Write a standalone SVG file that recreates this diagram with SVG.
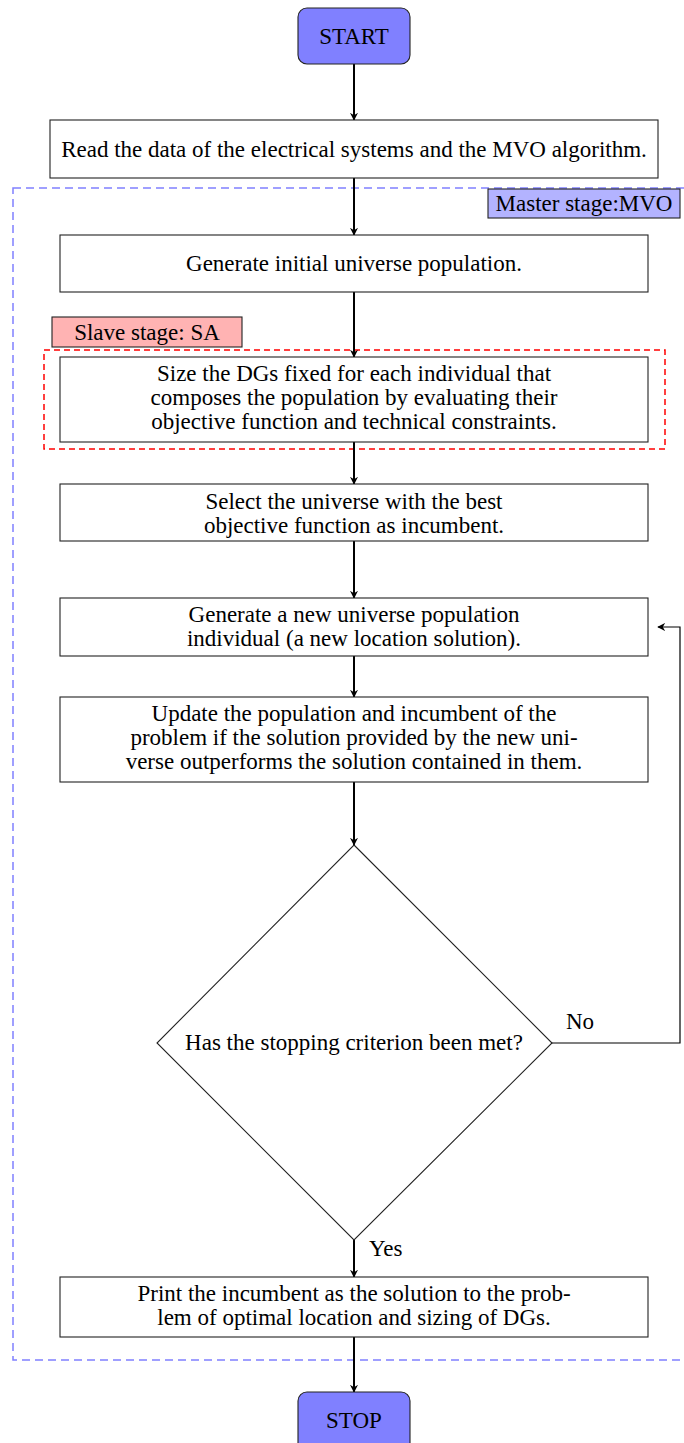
<svg xmlns="http://www.w3.org/2000/svg" width="684" height="1443" viewBox="0 0 684 1443">
<style>
text{font-family:"Liberation Serif","Times New Roman",serif;font-size:23px;fill:#000;text-anchor:middle}
.box{fill:#fff;stroke:#222;stroke-width:1.1}
.term{fill:#8080ff;stroke:#222;stroke-width:1.1}
.con{fill:none;stroke:#000;stroke-width:2}
.lbl{text-anchor:start}
</style>
<defs>
<marker id="arr" viewBox="0 0 10 10" refX="9" refY="5" markerWidth="8" markerHeight="8" markerUnits="userSpaceOnUse" orient="auto">
<path d="M0,0 L10,5 L0,10 L3,5 Z" fill="#000"/>
</marker>
</defs>
<g id="master-frame">
<rect x="13" y="188" width="690" height="1172" fill="none" stroke="#8080ff" stroke-width="1.5" stroke-dasharray="8,5"/>
<rect x="488" y="189" width="192" height="29" fill="#b3b3ff" stroke="#222" stroke-width="1.1"/>
<text x="584" y="211">Master stage:MVO</text>
</g>
<g id="slave-frame">
<rect x="44" y="350" width="621" height="99" fill="none" stroke="#ff0000" stroke-width="1.5" stroke-dasharray="6,4"/>
<rect x="52" y="317" width="190" height="30" fill="#ffb3b3" stroke="#222" stroke-width="1.1"/>
<text x="147" y="340">Slave stage: SA</text>
</g>
<g id="connectors">
<line class="con" x1="354" y1="64" x2="354" y2="120" marker-end="url(#arr)"/>
<line class="con" x1="354" y1="178" x2="354" y2="235" marker-end="url(#arr)"/>
<line class="con" x1="354" y1="292" x2="354" y2="357" marker-end="url(#arr)"/>
<line class="con" x1="354" y1="442" x2="354" y2="484" marker-end="url(#arr)"/>
<line class="con" x1="354" y1="541" x2="354" y2="598" marker-end="url(#arr)"/>
<line class="con" x1="354" y1="656" x2="354" y2="697" marker-end="url(#arr)"/>
<line class="con" x1="354" y1="782" x2="354" y2="845" marker-end="url(#arr)"/>
<line class="con" x1="354" y1="1240" x2="354" y2="1277" marker-end="url(#arr)"/>
<line class="con" x1="354" y1="1337" x2="354" y2="1392" marker-end="url(#arr)"/>
<polyline points="552,1043 680,1043 680,627 658,627" fill="none" stroke="#000" stroke-width="1.2" marker-end="url(#arr)"/>
<text class="lbl" x="566" y="1029">No</text>
<text class="lbl" x="369" y="1256">Yes</text>
</g>
<g id="start">
<rect class="term" x="298" y="8" width="112" height="56" rx="9"/>
<text x="354" y="44">START</text>
</g>
<g id="read">
<rect class="box" x="50" y="120" width="608" height="58"/>
<text x="354" y="157">Read the data of the electrical systems and the MVO algorithm.</text>
</g>
<g id="generate-initial">
<rect class="box" x="60" y="235" width="588" height="57"/>
<text x="354" y="271">Generate initial universe population.</text>
</g>
<g id="size">
<rect class="box" x="60" y="357" width="588" height="85"/>
<text x="354" y="381">Size the DGs fixed for each individual that</text>
<text x="354" y="405">composes the population by evaluating their</text>
<text x="354" y="429">objective function and technical constraints.</text>
</g>
<g id="select">
<rect class="box" x="60" y="484" width="588" height="57"/>
<text x="354" y="509">Select the universe with the best</text>
<text x="354" y="533">objective function as incumbent.</text>
</g>
<g id="generate-new">
<rect class="box" x="60" y="598" width="588" height="58"/>
<text x="354" y="622">Generate a new universe population</text>
<text x="354" y="646">individual (a new location solution).</text>
</g>
<g id="update">
<rect class="box" x="60" y="697" width="588" height="85"/>
<text x="354" y="721">Update the population and incumbent of the</text>
<text x="354" y="745">problem if the solution provided by the new uni-</text>
<text x="354" y="769">verse outperforms the solution contained in them.</text>
</g>
<g id="decision">
<polygon class="box" points="354,845 552,1043 354,1240 157,1043"/>
<text x="354" y="1050">Has the stopping criterion been met?</text>
</g>
<g id="print">
<rect class="box" x="60" y="1277" width="588" height="60"/>
<text x="354" y="1301">Print the incumbent as the solution to the prob-</text>
<text x="354" y="1325">lem of optimal location and sizing of DGs.</text>
</g>
<g id="stop">
<rect class="term" x="298" y="1392" width="112" height="62" rx="9"/>
<text x="354" y="1428">STOP</text>
</g>
</svg>
